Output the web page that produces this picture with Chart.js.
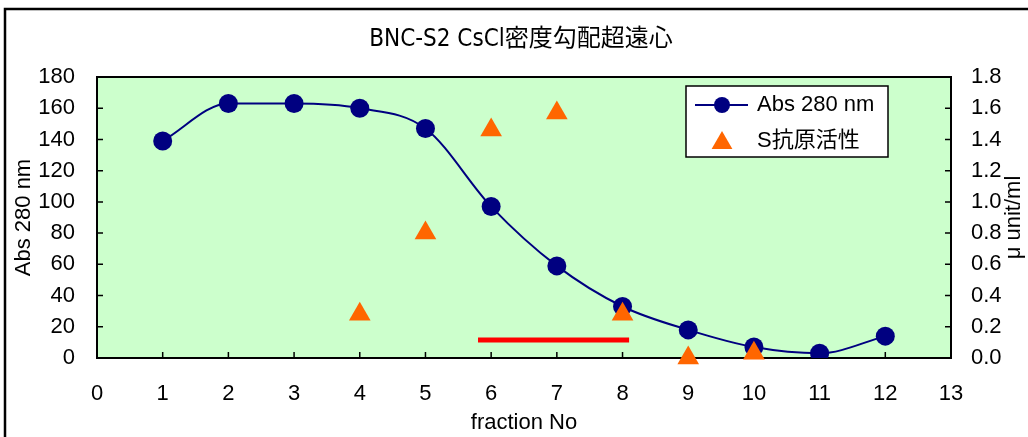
<!DOCTYPE html>
<html>
<head>
<meta charset="utf-8">
<script src="https://cdn.jsdelivr.net/npm/chart.js@4"></script>
<style>
  body { margin: 0; background: #fff; }
  canvas { display: block; }
</style>
</head>
<body>
<canvas id="gradientChart" width="1028" height="437"></canvas>
<script>
// fraction data
const fractions = [1, 2, 3, 4, 5, 6, 7, 8, 9, 10, 11, 12];
const abs280 = [139, 163, 163, 160, 147, 97, 59, 33, 18, 7, 3, 14];
const antigenFractions = [4, 5, 6, 7, 8, 9, 10];
const antigenActivity = [0.28, 0.80, 1.46, 1.57, 0.28, 0.0, 0.03];
const poolRange = [5.8, 8.1];   // red bar, pooled fractions
const poolLevel = 11.5;

const NAVY = '#000080';
const ORANGE = '#FF6600';
const FONT = "'Liberation Sans', Arial, 'Noto Sans CJK JP', sans-serif";
const TITLE_FONT = "24px 'DejaVu Sans Condensed', 'Noto Sans CJK JP', sans-serif";

const chartDecor = {
  id: 'chartDecor',
  beforeDraw(chart) {
    const { ctx, chartArea: a } = chart;
    ctx.save();
    ctx.fillStyle = '#fff';
    ctx.fillRect(0, 0, chart.width, chart.height);
    ctx.strokeStyle = '#000';
    ctx.lineWidth = 2.5;
    ctx.strokeRect(5, 9, chart.width + 20, chart.height + 20);
    ctx.fillStyle = '#CCFFCC';
    ctx.fillRect(a.left, a.top, a.right - a.left, a.bottom - a.top);
    ctx.restore();
  },
  beforeDatasetsDraw(chart) {
    const { ctx, chartArea: a, scales } = chart;
    ctx.save();
    ctx.strokeStyle = '#000';
    ctx.lineWidth = 2;
    ctx.strokeRect(a.left, a.top, a.right - a.left, a.bottom - a.top);
    ctx.lineWidth = 1.5;
    ctx.beginPath();
    scales.y.ticks.forEach(t => {
      const p = scales.y.getPixelForValue(t.value);
      ctx.moveTo(a.left, p); ctx.lineTo(a.left + 6, p);
    });
    scales.y2.ticks.forEach(t => {
      const p = scales.y2.getPixelForValue(t.value);
      ctx.moveTo(a.right, p); ctx.lineTo(a.right - 6, p);
    });
    scales.x.ticks.forEach(t => {
      const p = scales.x.getPixelForValue(t.value);
      ctx.moveTo(p, a.bottom); ctx.lineTo(p, a.bottom - 6);
    });
    ctx.stroke();
    ctx.restore();
  },
  afterDraw(chart) {
    const { ctx, chartArea: a } = chart;
    ctx.save();
    ctx.fillStyle = '#000';
    ctx.font = TITLE_FONT;
    ctx.textAlign = 'center';
    ctx.textBaseline = 'middle';
    ctx.fillText('BNC-S2 CsCl密度勾配超遠心', 521, 40);
    ctx.restore();

    ctx.save();
    // right axis title, reading bottom to top like the left one
    ctx.translate(1014, (a.top + a.bottom) / 2);
    ctx.rotate(-Math.PI / 2);
    ctx.font = '22px ' + FONT;
    ctx.fillStyle = '#000';
    ctx.textAlign = 'center';
    ctx.textBaseline = 'middle';
    ctx.fillText('μ unit/ml', 0, 0);
    ctx.restore();

    // legend box
    const bx = a.right - 265, by = a.top + 9, bw = 202, bh = 71;
    ctx.save();
    ctx.fillStyle = '#fff';
    ctx.fillRect(bx, by, bw, bh);
    ctx.strokeStyle = '#000';
    ctx.lineWidth = 1.5;
    ctx.strokeRect(bx, by, bw, bh);
    const ds = chart.data.datasets;
    ctx.strokeStyle = ds[1].borderColor;
    ctx.lineWidth = 2;
    ctx.beginPath();
    ctx.moveTo(bx + 9, by + 19); ctx.lineTo(bx + 62, by + 19);
    ctx.stroke();
    ctx.fillStyle = ds[1].pointBackgroundColor;
    ctx.beginPath();
    ctx.arc(bx + 36, by + 19, 8, 0, Math.PI * 2);
    ctx.fill();
    ctx.fillStyle = ds[0].backgroundColor;
    const tx = bx + 36, ty = by + 57, r = 12;
    ctx.beginPath();
    ctx.moveTo(tx, ty - r);
    ctx.lineTo(tx + r * 0.866, ty + r / 2);
    ctx.lineTo(tx - r * 0.866, ty + r / 2);
    ctx.closePath();
    ctx.fill();
    ctx.fillStyle = '#000';
    ctx.font = '22px ' + FONT;
    ctx.textBaseline = 'middle';
    ctx.fillText('Abs 280 nm', bx + 71, by + 19);
    ctx.fillText('S抗原活性', bx + 71, by + 55);
    ctx.restore();
  }
};

new Chart(document.getElementById('gradientChart').getContext('2d'), {
  data: {
    datasets: [
      {
        type: 'scatter',
        label: 'S抗原活性',
        data: antigenFractions.map((f, i) => ({ x: f, y: antigenActivity[i] })),
        yAxisID: 'y2',
        pointStyle: 'triangle',
        pointRadius: 12.5,
        pointHoverRadius: 12.5,
        backgroundColor: ORANGE,
        borderColor: ORANGE,
        borderWidth: 0,
        clip: false,
        order: 0
      },
      {
        type: 'line',
        label: 'Abs 280 nm',
        data: fractions.map((f, i) => ({ x: f, y: abs280[i] })),
        yAxisID: 'y',
        borderColor: NAVY,
        borderWidth: 2,
        cubicInterpolationMode: 'monotone',
        pointRadius: 9.5,
        pointHoverRadius: 9.5,
        pointBackgroundColor: NAVY,
        pointBorderColor: NAVY,
        pointBorderWidth: 0,
        order: 1
      },
      {
        type: 'line',
        label: 'pool',
        data: poolRange.map(x => ({ x: x, y: poolLevel })),
        yAxisID: 'y',
        borderColor: '#FF0000',
        borderWidth: 5,
        borderCapStyle: 'butt',
        pointRadius: 0,
        order: 2
      }
    ]
  },
  options: {
    responsive: false,
    animation: false,
    layout: { padding: { top: 77 } },
    plugins: {
      legend: { display: false },
      tooltip: { enabled: false },
      title: { display: false }
    },
    scales: {
      x: {
        type: 'linear',
        position: 'bottom',
        min: 0,
        max: 13,
        ticks: { stepSize: 1, color: '#000', font: { family: FONT, size: 22 }, padding: 23, maxRotation: 0 },
        grid: { display: false, drawTicks: false },
        border: { display: false },
        title: { display: true, text: 'fraction No', color: '#000', font: { family: FONT, size: 22 }, padding: { top: 0, bottom: 1 } },
        afterFit(scale) { scale.height = 79; }
      },
      y: {
        position: 'left',
        min: 0,
        max: 180,
        ticks: { stepSize: 20, color: '#000', font: { family: FONT, size: 22 }, padding: 22 },
        grid: { display: false, drawTicks: false },
        border: { display: false },
        title: { display: true, text: 'Abs 280 nm', color: '#000', font: { family: FONT, size: 22 }, padding: { top: 11, bottom: 0 } },
        afterFit(scale) { scale.width = 97; }
      },
      y2: {
        position: 'right',
        min: 0,
        max: 1.8,
        ticks: {
          stepSize: 0.2, color: '#000', font: { family: FONT, size: 22 }, padding: 20,
          callback: v => v.toFixed(1)
        },
        grid: { display: false, drawTicks: false },
        border: { display: false },
        afterFit(scale) { scale.width = 77; }
      }
    }
  },
  plugins: [chartDecor]
});
</script>
</body>
</html>
